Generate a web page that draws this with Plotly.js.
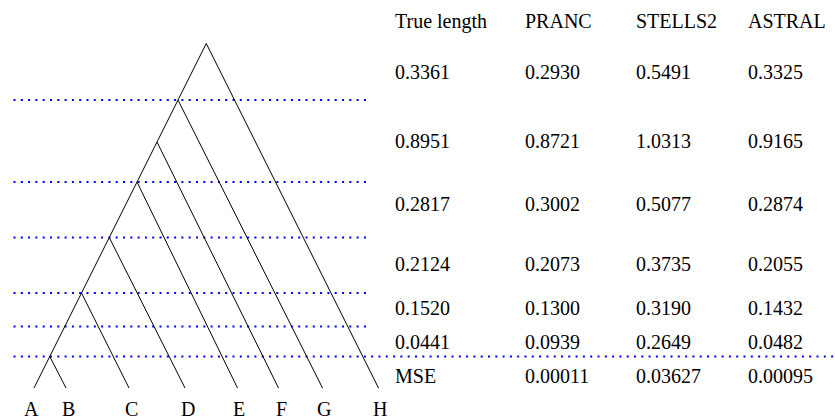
<!DOCTYPE html>
<html><head><meta charset="utf-8">
<script src="https://cdn.plot.ly/plotly-3.0.1.min.js"></script>
<style>html,body{margin:0;padding:0;background:#fff;} #chart{width:835px;height:420px;}</style>
</head><body><div id="chart"></div>
<script>
// ---- data ----
const leaves = ['A','B','C','D','E','F','G','H'];
const leafX = [34, 66, 129, 185, 237.5, 278.5, 322.5, 378.5];
// heights (above the leaves) of the internal nodes joining leaf i+1 to clade of leaves 0..i
const nodeHeights = [31.5, 95, 150.5, 206, 246, 288, 344.5];
// heights of the dotted interval boundaries
const boundaryHeights = [288, 206, 150.5, 95, 61.5, 31.5];

const columns = ['True length', 'PRANC', 'STELLS2', 'ASTRAL'];
const trueLength = ['0.3361', '0.8951', '0.2817', '0.2124', '0.1520', '0.0441', 'MSE'];
const pranc      = ['0.2930', '0.8721', '0.3002', '0.2073', '0.1300', '0.0939', '0.00011'];
const stells2    = ['0.5491', '1.0313', '0.5077', '0.3735', '0.3190', '0.2649', '0.03627'];
const astral     = ['0.3325', '0.9165', '0.2874', '0.2055', '0.1432', '0.0482', '0.00095'];

// ---- layout config ----
const colX = [394, 524, 635, 747];
const headerY = 367;
const rowY = [316, 247, 184, 124, 80, 46, 12];
const leafLabelY = -21;
const labelShift = [-2.5, 2.5, 2.5, 2.5, 1.5, 2.5, 1.5, 1.5];
const spineSlope = 0.5;
const dotStart = 13.5, dotEnd = 366.5, dotEndLast = 835;

const FONT = {family: '"Liberation Serif", "DejaVu Serif", serif', size: 20, color: '#000'};

// tree lines
const tx = [], ty = [];
const xA = leafX[0];
const rootH = nodeHeights[nodeHeights.length - 1];
tx.push(xA, xA + rootH * spineSlope, null); ty.push(0, rootH, null);
nodeHeights.forEach((h, i) => {
  tx.push(xA + h * spineSlope, leafX[i + 1], null);
  ty.push(h, 0, null);
});

const traces = [];
boundaryHeights.forEach((h, i) => {
  const last = i === boundaryHeights.length - 1;
  traces.push({
    x: [dotStart, last ? dotEndLast : dotEnd], y: [h, h],
    mode: 'lines', hoverinfo: 'skip', showlegend: false,
    line: {color: '#0000ff', width: 2, dash: '2px,5.3px'}
  });
});
traces.push({x: tx, y: ty, mode: 'lines', hoverinfo: 'skip', showlegend: false,
  line: {color: '#000', width: 1}});

const annotations = [];
const cols = [trueLength, pranc, stells2, astral];
columns.forEach((c, j) => {
  annotations.push({x: colX[j], y: headerY, text: c, showarrow: false,
    xanchor: 'left', yanchor: 'middle', borderpad: 0, font: FONT});
  cols[j].forEach((v, i) => {
    annotations.push({x: colX[j], y: rowY[i], text: v, showarrow: false,
      xanchor: 'left', yanchor: 'middle', borderpad: 0, font: FONT});
  });
});
leaves.forEach((l, i) => {
  annotations.push({x: leafX[i] + labelShift[i], y: leafLabelY, text: l, showarrow: false,
    xanchor: 'center', yanchor: 'middle', borderpad: 0, font: FONT});
});

const layout = {
  width: 835, height: 420,
  margin: {l: 0, r: 0, t: 0, b: 0},
  paper_bgcolor: '#fff', plot_bgcolor: '#fff',
  xaxis: {range: [0, 835], visible: false, fixedrange: true},
  yaxis: {range: [-32, 388], visible: false, fixedrange: true},
  showlegend: false,
  annotations: annotations
};
Plotly.newPlot('chart', traces, layout, {displayModeBar: false, staticPlot: true});
</script>
</body></html>
